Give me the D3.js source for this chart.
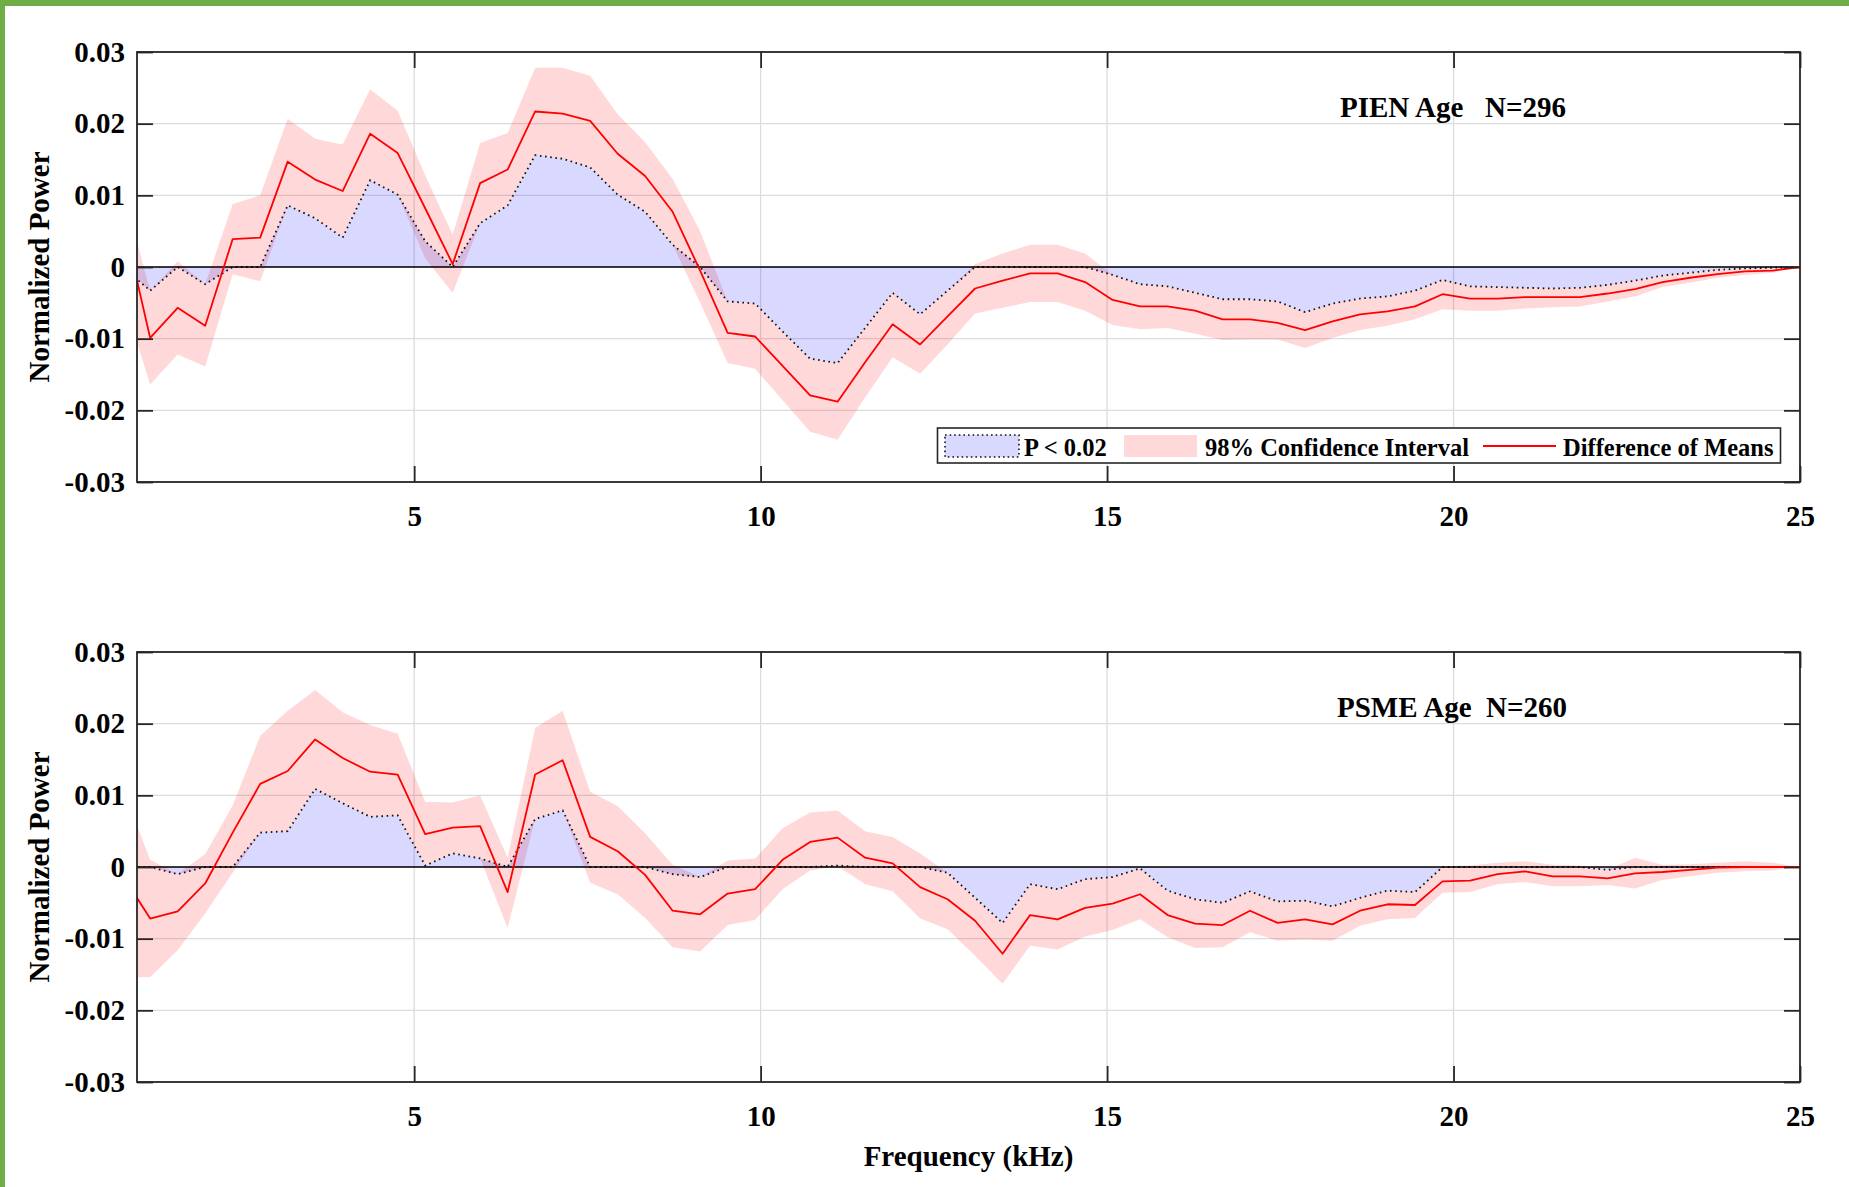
<!DOCTYPE html>
<html>
<head>
<meta charset="utf-8">
<script src="https://cdn.jsdelivr.net/npm/d3@7"></script>
<style>
  html, body { margin: 0; padding: 0; background: #fff; }
  svg { display: block; }
  text { font-family: "Liberation Serif", "Times New Roman", serif; font-weight: bold; fill: #000; }
</style>
</head>
<body>
<svg id="chart" width="1849" height="1187"></svg>
<script>
// Frequency bins (kHz); the first one lies left of the axis and is clipped
const freqKHz = [0.794, 1.190, 1.587, 1.984, 2.381, 2.778, 3.175, 3.571, 3.968, 4.365,
  4.762, 5.159, 5.556, 5.952, 6.349, 6.746, 7.143, 7.540, 7.937, 8.333,
  8.730, 9.127, 9.524, 9.921, 10.317, 10.714, 11.111, 11.508, 11.905, 12.302,
  12.698, 13.095, 13.492, 13.889, 14.286, 14.683, 15.079, 15.476, 15.873, 16.270,
  16.667, 17.063, 17.460, 17.857, 18.254, 18.651, 19.048, 19.444, 19.841, 20.238,
  20.635, 21.032, 21.429, 21.825, 22.222, 22.619, 23.016, 23.413, 23.810, 24.206,
  24.603, 25.000];

// PIEN: difference of means, 98% CI bounds, significant part (P < 0.02)
const pienMean = [0.0068, -0.0099, -0.0057, -0.0082, 0.0039, 0.0041, 0.0147, 0.0122, 0.0106, 0.0186,
  0.0159, 0.0082, 0.0004, 0.0117, 0.0136, 0.0217, 0.0214, 0.0204, 0.0158, 0.0127,
  0.0077, -0.0005, -0.0092, -0.0097, -0.0138, -0.0179, -0.0188, -0.0133, -0.0080, -0.0108,
  -0.0069, -0.0030, -0.0019, -0.0009, -0.0009, -0.0021, -0.0046, -0.0055, -0.0055, -0.0061,
  -0.0073, -0.0073, -0.0078, -0.0088, -0.0076, -0.0066, -0.0062, -0.0055, -0.0038, -0.0044,
  -0.0044, -0.0042, -0.0042, -0.0042, -0.0037, -0.0031, -0.0021, -0.0015, -0.0010, -0.0006,
  -0.0005, 0.0000];
const pienUpper = [0.0110, -0.0033, 0.0008, -0.0024, 0.0088, 0.0100, 0.0207, 0.0179, 0.0171, 0.0248,
  0.0218, 0.0128, 0.0045, 0.0173, 0.0187, 0.0278, 0.0278, 0.0267, 0.0213, 0.0174,
  0.0123, 0.0050, -0.0048, -0.0051, -0.0090, -0.0128, -0.0134, -0.0085, -0.0036, -0.0066,
  -0.0033, 0.0004, 0.0019, 0.0031, 0.0031, 0.0019, -0.0011, -0.0024, -0.0027, -0.0036,
  -0.0045, -0.0045, -0.0048, -0.0063, -0.0051, -0.0044, -0.0041, -0.0033, -0.0018, -0.0027,
  -0.0028, -0.0029, -0.0030, -0.0029, -0.0025, -0.0019, -0.0012, -0.0008, -0.0004, -0.0002,
  -0.0001, 0.0000];
const pienLower = [-0.0041, -0.0164, -0.0122, -0.0139, -0.0010, -0.0020, 0.0086, 0.0068, 0.0041, 0.0121,
  0.0101, 0.0012, -0.0036, 0.0061, 0.0086, 0.0156, 0.0151, 0.0139, 0.0101, 0.0077,
  0.0031, -0.0050, -0.0134, -0.0142, -0.0186, -0.0230, -0.0241, -0.0182, -0.0126, -0.0149,
  -0.0108, -0.0065, -0.0057, -0.0049, -0.0049, -0.0061, -0.0081, -0.0087, -0.0085, -0.0093,
  -0.0102, -0.0101, -0.0101, -0.0113, -0.0099, -0.0088, -0.0082, -0.0073, -0.0059, -0.0061,
  -0.0061, -0.0058, -0.0056, -0.0055, -0.0048, -0.0041, -0.0028, -0.0022, -0.0015, -0.0011,
  -0.0008, 0.0000];
const pienSig = [0, -0.0033, 0, -0.0024, 0, 0, 0.0086, 0.0068, 0.0041, 0.0121,
  0.0101, 0.0036, 0, 0.0061, 0.0086, 0.0156, 0.0151, 0.0139, 0.0101, 0.0077,
  0.0031, 0, -0.0048, -0.0051, -0.0090, -0.0128, -0.0134, -0.0085, -0.0036, -0.0066,
  -0.0033, 0, 0, 0, 0, 0, -0.0011, -0.0024, -0.0027, -0.0036,
  -0.0045, -0.0045, -0.0048, -0.0063, -0.0051, -0.0044, -0.0041, -0.0033, -0.0018, -0.0027,
  -0.0028, -0.0029, -0.0030, -0.0029, -0.0025, -0.0019, -0.0012, -0.0008, -0.0004, -0.0002,
  -0.0001, 0];

// PSME: difference of means, 98% CI bounds, significant part (P < 0.02)
const psmeMean = [-0.0012, -0.0072, -0.0062, -0.0023, 0.0048, 0.0116, 0.0134, 0.0178, 0.0152, 0.0133,
  0.0129, 0.0046, 0.0055, 0.0057, -0.0035, 0.0129, 0.0149, 0.0042, 0.0022, -0.0011,
  -0.0061, -0.0066, -0.0037, -0.0031, 0.0010, 0.0035, 0.0041, 0.0013, 0.0005, -0.0028,
  -0.0045, -0.0075, -0.0121, -0.0067, -0.0073, -0.0057, -0.0051, -0.0038, -0.0067, -0.0079,
  -0.0081, -0.0061, -0.0078, -0.0073, -0.0080, -0.0061, -0.0052, -0.0053, -0.0020, -0.0019,
  -0.0010, -0.0006, -0.0013, -0.0013, -0.0016, -0.0009, -0.0007, -0.0004, -0.0001, 0.0000,
  0.0000, 0.0000];
const psmeUpper = [0.0110, 0.0010, -0.0010, 0.0018, 0.0086, 0.0183, 0.0218, 0.0247, 0.0216, 0.0198,
  0.0186, 0.0091, 0.0090, 0.0100, 0.0013, 0.0194, 0.0218, 0.0105, 0.0085, 0.0047,
  0.0003, -0.0014, 0.0009, 0.0012, 0.0054, 0.0076, 0.0079, 0.0050, 0.0042, 0.0019,
  -0.0008, -0.0043, -0.0078, -0.0024, -0.0031, -0.0017, -0.0014, -0.0002, -0.0033, -0.0045,
  -0.0050, -0.0034, -0.0048, -0.0047, -0.0055, -0.0043, -0.0033, -0.0035, 0.0001, 0.0002,
  0.0006, 0.0008, 0.0003, 0.0002, -0.0004, 0.0013, 0.0003, 0.0004, 0.0006, 0.0008,
  0.0006, 0.0000];
const psmeLower = [-0.0154, -0.0154, -0.0116, -0.0065, -0.0008, 0.0048, 0.0050, 0.0109, 0.0089, 0.0070,
  0.0072, 0.0002, 0.0019, 0.0012, -0.0085, 0.0067, 0.0079, -0.0022, -0.0038, -0.0071,
  -0.0112, -0.0118, -0.0081, -0.0074, -0.0031, -0.0005, 0.0001, -0.0024, -0.0034, -0.0072,
  -0.0087, -0.0124, -0.0163, -0.0110, -0.0115, -0.0097, -0.0088, -0.0073, -0.0098, -0.0113,
  -0.0112, -0.0091, -0.0103, -0.0101, -0.0103, -0.0082, -0.0073, -0.0071, -0.0036, -0.0035,
  -0.0024, -0.0021, -0.0027, -0.0027, -0.0025, -0.0030, -0.0018, -0.0013, -0.0008, -0.0006,
  -0.0005, 0.0000];
const psmeSig = [0, 0, -0.0010, 0, 0, 0.0048, 0.0050, 0.0109, 0.0089, 0.0070,
  0.0072, 0.0002, 0.0019, 0.0012, 0, 0.0067, 0.0079, 0, 0, 0,
  -0.0010, -0.0014, 0, 0, 0, 0, 0.0002, 0, 0, 0,
  -0.0008, -0.0043, -0.0078, -0.0024, -0.0031, -0.0017, -0.0014, -0.0002, -0.0033, -0.0045,
  -0.0050, -0.0034, -0.0048, -0.0047, -0.0055, -0.0043, -0.0033, -0.0035, 0, 0,
  0, 0, 0, 0, -0.0004, 0, 0, 0, 0, 0,
  0, 0];

const xTickValues = [5, 10, 15, 20, 25];
const yTickValues = [-0.03, -0.02, -0.01, 0, 0.01, 0.02, 0.03];
const yTickLabels = ["-0.03", "-0.02", "-0.01", "0", "0.01", "0.02", "0.03"];
const panelTitles = ["PIEN Age   N=296", "PSME Age  N=260"];
const legendLabels = ["P < 0.02", "98% Confidence Interval", "Difference of Means"];
const yAxisTitle = "Normalized Power";
const xAxisTitle = "Frequency (kHz)";

const panels = [
  { title: panelTitles[0], mean: pienMean, upper: pienUpper, lower: pienLower, sig: pienSig,
    top: 52, bottom: 482, titleX: 1340, titleY: 117, legend: true },
  { title: panelTitles[1], mean: psmeMean, upper: psmeUpper, lower: psmeLower, sig: psmeSig,
    top: 652, bottom: 1082, titleX: 1337, titleY: 717, legend: false }
];

const svg = d3.select("#chart");
const W = 1849, H = 1187;
const left = 137, right = 1800;
const axisColor = "#262626";
const pinkFill = "rgba(255,0,0,0.15)";
const blueFill = "rgba(0,0,255,0.15)";

svg.append("rect").attr("width", W).attr("height", H).attr("fill", "#fff");
// green frame on the top and left edges
svg.append("rect").attr("x", 0).attr("y", 0).attr("width", W).attr("height", 6).attr("fill", "#70ad47");
svg.append("rect").attr("x", 0).attr("y", 0).attr("width", 5).attr("height", H).attr("fill", "#70ad47");

const x = d3.scaleLinear().domain([1, 25]).range([left, right]);

panels.forEach((p, pi) => {
  const y = d3.scaleLinear().domain([-0.03, 0.03]).range([p.bottom, p.top]);
  const rows = freqKHz.map((f, i) => ({ f, m: p.mean[i], lo: p.lower[i], hi: p.upper[i], s: p.sig[i] }));
  const g = svg.append("g");

  const clipId = "clip" + pi;
  svg.append("clipPath").attr("id", clipId)
    .append("rect").attr("x", left).attr("y", p.top).attr("width", right - left).attr("height", p.bottom - p.top);

  // grid
  const grid = g.append("g").attr("stroke", "#dcdcdc").attr("stroke-width", 1.3);
  xTickValues.filter(v => v < 25).forEach(v => {
    grid.append("line").attr("x1", x(v)).attr("x2", x(v)).attr("y1", p.top).attr("y2", p.bottom);
  });
  yTickValues.forEach(v => {
    grid.append("line").attr("x1", left).attr("x2", right).attr("y1", y(v)).attr("y2", y(v));
  });

  const plot = g.append("g").attr("clip-path", `url(#${clipId})`);

  // confidence band
  plot.append("path").datum(rows)
    .attr("fill", pinkFill)
    .attr("d", d3.area().x(d => x(d.f)).y0(d => y(d.lo)).y1(d => y(d.hi)));

  // significant region
  plot.append("path").datum(rows)
    .attr("fill", blueFill)
    .attr("d", d3.area().x(d => x(d.f)).y0(y(0)).y1(d => y(d.s)));
  plot.append("path").datum(rows)
    .attr("fill", "none").attr("stroke", "#111").attr("stroke-width", 1.8)
    .attr("stroke-dasharray", "1.6 3.6")
    .attr("d", d3.line().x(d => x(d.f)).y(d => y(d.s)));

  // zero line
  plot.append("line").attr("x1", left).attr("x2", right).attr("y1", y(0)).attr("y2", y(0))
    .attr("stroke", "#000").attr("stroke-width", 1.3);

  // difference of means
  plot.append("path").datum(rows)
    .attr("fill", "none").attr("stroke", "#ff0000").attr("stroke-width", 1.8)
    .attr("stroke-linejoin", "round")
    .attr("d", d3.line().x(d => x(d.f)).y(d => y(d.m)));

  // axes with inward ticks on all four sides
  const tickLen = 16;
  const styleAxis = sel => {
    sel.select(".domain").remove();
    sel.selectAll(".tick line").attr("stroke", axisColor).attr("stroke-width", 1.8);
    sel.selectAll(".tick text").attr("font-size", 29).attr("fill", "#000")
      .style("font-family", '"Liberation Serif", "Times New Roman", serif').style("font-weight", "bold");
  };
  g.append("g").attr("transform", `translate(0,${p.bottom})`)
    .call(d3.axisBottom(x).tickValues(xTickValues).tickFormat(d3.format("d")).tickSize(-tickLen).tickPadding(23))
    .call(styleAxis);
  g.append("g").attr("transform", `translate(0,${p.top})`)
    .call(d3.axisTop(x).tickValues(xTickValues).tickFormat("").tickSize(-tickLen))
    .call(styleAxis);
  g.append("g").attr("transform", `translate(${left},0)`)
    .call(d3.axisLeft(y).tickValues(yTickValues).tickFormat((d, i) => yTickLabels[i]).tickSize(-tickLen).tickPadding(12))
    .call(styleAxis);
  g.append("g").attr("transform", `translate(${right},0)`)
    .call(d3.axisRight(y).tickValues(yTickValues).tickFormat("").tickSize(-tickLen))
    .call(styleAxis);

  g.append("rect").attr("x", left).attr("y", p.top).attr("width", right - left).attr("height", p.bottom - p.top)
    .attr("fill", "none").attr("stroke", axisColor).attr("stroke-width", 1.8);

  // titles
  g.append("text").attr("x", p.titleX).attr("y", p.titleY).attr("font-size", 29)
    .style("white-space", "pre").text(p.title);
  g.append("text").attr("transform", `translate(49,${(p.top + p.bottom) / 2}) rotate(-90)`)
    .attr("text-anchor", "middle").attr("font-size", 29).text(yAxisTitle);

  if (p.legend) {
    const lg = g.append("g");
    lg.append("rect").attr("x", 937.5).attr("y", 428).attr("width", 843).attr("height", 35)
      .attr("fill", "#fff").attr("stroke", axisColor).attr("stroke-width", 1.6);
    lg.append("rect").attr("x", 945).attr("y", 435).attr("width", 74).attr("height", 22)
      .attr("fill", blueFill).attr("stroke", "#111").attr("stroke-width", 1.6).attr("stroke-dasharray", "1.6 3");
    lg.append("text").attr("x", 1024).attr("y", 456).attr("font-size", 24.5).text(legendLabels[0]);
    lg.append("rect").attr("x", 1124).attr("y", 435).attr("width", 73).attr("height", 22).attr("fill", pinkFill);
    lg.append("text").attr("x", 1205).attr("y", 456).attr("font-size", 24.5).text(legendLabels[1]);
    lg.append("line").attr("x1", 1483).attr("x2", 1556).attr("y1", 446).attr("y2", 446)
      .attr("stroke", "#ff0000").attr("stroke-width", 1.8);
    lg.append("text").attr("x", 1563).attr("y", 456).attr("font-size", 24.5).text(legendLabels[2]);
  }
});

svg.append("text").attr("x", (left + right) / 2).attr("y", 1166).attr("text-anchor", "middle")
  .attr("font-size", 29).text(xAxisTitle);
</script>
</body>
</html>
